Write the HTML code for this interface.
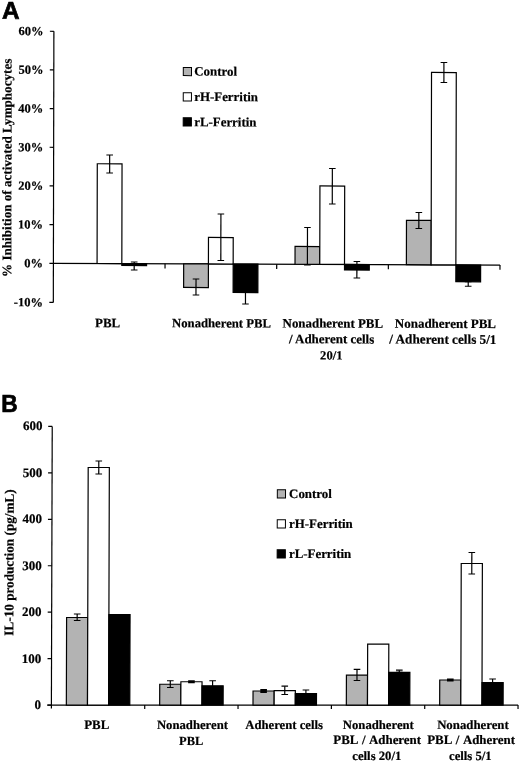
<!DOCTYPE html>
<html><head><meta charset="utf-8"><title>Figure</title>
<style>html,body{margin:0;padding:0;background:#fff;}svg{display:block}
.s{font-family:"Liberation Serif",serif;font-weight:bold;stroke:#000;stroke-width:0.2px;}
.n{font-family:"Liberation Sans",sans-serif;font-weight:bold;stroke:#000;stroke-width:0.7px;}</style></head>
<body>
<svg width="520" height="763" viewBox="0 0 520 763" style="filter:blur(0.3px)">
<rect x="0" y="0" width="520" height="763" fill="#fff"/>
<g transform="matrix(1 0.004 -0.0021 1 0.5529 -0.2136)">
<text x="1.49" y="19.01" font-size="24.3" text-anchor="start" class="n" fill="#000" >A</text>
<line x1="53.40" y1="31.28" x2="53.40" y2="302.47" stroke="#000" stroke-width="1.2"/>
<line x1="49.40" y1="31.28" x2="53.40" y2="31.28" stroke="#000" stroke-width="1.2"/>
<text x="43.00" y="35.28" font-size="12.5" text-anchor="end" class="s" fill="#000" >60%</text>
<line x1="49.40" y1="69.95" x2="53.40" y2="69.95" stroke="#000" stroke-width="1.2"/>
<text x="43.00" y="73.95" font-size="12.5" text-anchor="end" class="s" fill="#000" >50%</text>
<line x1="49.40" y1="108.62" x2="53.40" y2="108.62" stroke="#000" stroke-width="1.2"/>
<text x="43.00" y="112.62" font-size="12.5" text-anchor="end" class="s" fill="#000" >40%</text>
<line x1="49.40" y1="147.29" x2="53.40" y2="147.29" stroke="#000" stroke-width="1.2"/>
<text x="43.00" y="151.29" font-size="12.5" text-anchor="end" class="s" fill="#000" >30%</text>
<line x1="49.40" y1="185.96" x2="53.40" y2="185.96" stroke="#000" stroke-width="1.2"/>
<text x="43.00" y="189.96" font-size="12.5" text-anchor="end" class="s" fill="#000" >20%</text>
<line x1="49.40" y1="224.63" x2="53.40" y2="224.63" stroke="#000" stroke-width="1.2"/>
<text x="43.00" y="228.63" font-size="12.5" text-anchor="end" class="s" fill="#000" >10%</text>
<line x1="49.40" y1="263.30" x2="53.40" y2="263.30" stroke="#000" stroke-width="1.2"/>
<text x="43.00" y="267.30" font-size="12.5" text-anchor="end" class="s" fill="#000" >0%</text>
<line x1="49.40" y1="302.47" x2="53.40" y2="302.47" stroke="#000" stroke-width="1.2"/>
<text x="43.00" y="306.47" font-size="12.5" text-anchor="end" class="s" fill="#000" >-10%</text>
<line x1="53.40" y1="263.30" x2="500.00" y2="263.30" stroke="#000" stroke-width="1.2"/>
<line x1="165.05" y1="263.30" x2="165.05" y2="268.00" stroke="#000" stroke-width="1.2"/>
<line x1="276.70" y1="263.30" x2="276.70" y2="268.00" stroke="#000" stroke-width="1.2"/>
<line x1="388.35" y1="263.30" x2="388.35" y2="268.00" stroke="#000" stroke-width="1.2"/>
<line x1="500.00" y1="263.30" x2="500.00" y2="268.00" stroke="#000" stroke-width="1.2"/>
<rect x="97.08" y="163.58" width="24.75" height="99.72" fill="#fff" stroke="#000" stroke-width="1.2"/>
<line x1="109.45" y1="154.78" x2="109.45" y2="172.78" stroke="#000" stroke-width="1.2"/>
<line x1="106.15" y1="154.78" x2="112.75" y2="154.78" stroke="#000" stroke-width="1.2"/>
<line x1="106.15" y1="172.78" x2="112.75" y2="172.78" stroke="#000" stroke-width="1.2"/>
<rect x="121.83" y="263.30" width="24.75" height="1.88" fill="#000" stroke="#000" stroke-width="1.2"/>
<line x1="134.20" y1="261.68" x2="134.20" y2="269.68" stroke="#000" stroke-width="1.2"/>
<line x1="130.90" y1="261.68" x2="137.50" y2="261.68" stroke="#000" stroke-width="1.2"/>
<line x1="130.90" y1="269.68" x2="137.50" y2="269.68" stroke="#000" stroke-width="1.2"/>
<rect x="183.67" y="263.30" width="24.75" height="23.63" fill="#b3b3b3" stroke="#000" stroke-width="1.2"/>
<line x1="196.05" y1="278.43" x2="196.05" y2="294.43" stroke="#000" stroke-width="1.2"/>
<line x1="192.75" y1="278.43" x2="199.35" y2="278.43" stroke="#000" stroke-width="1.2"/>
<line x1="192.75" y1="294.43" x2="199.35" y2="294.43" stroke="#000" stroke-width="1.2"/>
<rect x="208.42" y="236.83" width="24.75" height="26.47" fill="#fff" stroke="#000" stroke-width="1.2"/>
<line x1="220.80" y1="213.33" x2="220.80" y2="259.83" stroke="#000" stroke-width="1.2"/>
<line x1="217.50" y1="213.33" x2="224.10" y2="213.33" stroke="#000" stroke-width="1.2"/>
<line x1="217.50" y1="259.83" x2="224.10" y2="259.83" stroke="#000" stroke-width="1.2"/>
<rect x="233.17" y="263.30" width="24.75" height="28.43" fill="#000" stroke="#000" stroke-width="1.2"/>
<line x1="245.55" y1="291.73" x2="245.55" y2="303.23" stroke="#000" stroke-width="1.2"/>
<line x1="242.25" y1="291.73" x2="248.85" y2="291.73" stroke="#000" stroke-width="1.2"/>
<line x1="242.25" y1="303.23" x2="248.85" y2="303.23" stroke="#000" stroke-width="1.2"/>
<rect x="295.02" y="245.48" width="24.75" height="17.82" fill="#b3b3b3" stroke="#000" stroke-width="1.2"/>
<line x1="307.40" y1="226.48" x2="307.40" y2="263.98" stroke="#000" stroke-width="1.2"/>
<line x1="304.10" y1="226.48" x2="310.70" y2="226.48" stroke="#000" stroke-width="1.2"/>
<line x1="304.10" y1="263.98" x2="310.70" y2="263.98" stroke="#000" stroke-width="1.2"/>
<rect x="319.77" y="184.88" width="24.75" height="78.42" fill="#fff" stroke="#000" stroke-width="1.2"/>
<line x1="332.15" y1="167.38" x2="332.15" y2="202.88" stroke="#000" stroke-width="1.2"/>
<line x1="328.85" y1="167.38" x2="335.45" y2="167.38" stroke="#000" stroke-width="1.2"/>
<line x1="328.85" y1="202.88" x2="335.45" y2="202.88" stroke="#000" stroke-width="1.2"/>
<rect x="344.52" y="263.30" width="24.75" height="5.49" fill="#000" stroke="#000" stroke-width="1.2"/>
<line x1="356.90" y1="260.29" x2="356.90" y2="276.79" stroke="#000" stroke-width="1.2"/>
<line x1="353.60" y1="260.29" x2="360.20" y2="260.29" stroke="#000" stroke-width="1.2"/>
<line x1="353.60" y1="276.79" x2="360.20" y2="276.79" stroke="#000" stroke-width="1.2"/>
<rect x="406.38" y="218.94" width="24.75" height="44.36" fill="#b3b3b3" stroke="#000" stroke-width="1.2"/>
<line x1="418.75" y1="211.04" x2="418.75" y2="227.04" stroke="#000" stroke-width="1.2"/>
<line x1="415.45" y1="211.04" x2="422.05" y2="211.04" stroke="#000" stroke-width="1.2"/>
<line x1="415.45" y1="227.04" x2="422.05" y2="227.04" stroke="#000" stroke-width="1.2"/>
<rect x="431.12" y="70.94" width="24.75" height="192.36" fill="#fff" stroke="#000" stroke-width="1.2"/>
<line x1="443.50" y1="60.94" x2="443.50" y2="80.94" stroke="#000" stroke-width="1.2"/>
<line x1="440.20" y1="60.94" x2="446.80" y2="60.94" stroke="#000" stroke-width="1.2"/>
<line x1="440.20" y1="80.94" x2="446.80" y2="80.94" stroke="#000" stroke-width="1.2"/>
<rect x="455.88" y="263.30" width="24.75" height="16.79" fill="#000" stroke="#000" stroke-width="1.2"/>
<line x1="468.25" y1="280.09" x2="468.25" y2="284.59" stroke="#000" stroke-width="1.2"/>
<line x1="464.95" y1="280.09" x2="471.55" y2="280.09" stroke="#000" stroke-width="1.2"/>
<line x1="464.95" y1="284.59" x2="471.55" y2="284.59" stroke="#000" stroke-width="1.2"/>
<text x="107.73" y="326.98" font-size="12.9" text-anchor="middle" class="s" fill="#000" >PBL</text>
<text x="221.63" y="326.73" font-size="12.7" text-anchor="middle" class="s" fill="#000" >Nonadherent PBL</text>
<text x="332.94" y="326.48" font-size="12.9" text-anchor="middle" class="s" fill="#000" >Nonadherent PBL</text>
<text x="331.77" y="342.19" font-size="12.95" text-anchor="middle" class="s" fill="#000" >/ Adherent cells</text>
<text x="331.50" y="358.39" font-size="12.6" text-anchor="middle" class="s" fill="#000" >20/1</text>
<text x="445.54" y="326.33" font-size="13.0" text-anchor="middle" class="s" fill="#000" >Nonadherent PBL</text>
<text x="443.07" y="342.14" font-size="13.2" text-anchor="middle" class="s" fill="#000" >/ Adherent cells 5/1</text>
<text transform="translate(11.2,168.0) rotate(-90)" font-size="13.1" text-anchor="middle" class="s" fill="#000">% Inhibition of activated Lymphocytes</text>
<rect x="182.90" y="66.90" width="8.20" height="8.20" fill="#b3b3b3" stroke="#000" stroke-width="1"/>
<text x="193.90" y="75.00" font-size="12.9" text-anchor="start" class="s" fill="#000" >Control</text>
<rect x="182.90" y="92.20" width="8.20" height="8.20" fill="#fff" stroke="#000" stroke-width="1"/>
<text x="193.90" y="100.40" font-size="12.9" text-anchor="start" class="s" fill="#000" >rH-Ferritin</text>
<rect x="182.90" y="117.20" width="8.20" height="8.20" fill="#000" stroke="#000" stroke-width="1"/>
<text x="193.90" y="125.70" font-size="12.9" text-anchor="start" class="s" fill="#000" >rL-Ferritin</text>
</g>
<text transform="translate(1.3,411.8) scale(0.94,1.025)" font-size="24.2" class="n" fill="#000">B</text>
<g transform="translate(0,705.1) skewX(-0.17) translate(0,-705.1)">
<line x1="51.40" y1="426.40" x2="51.40" y2="708.60" stroke="#000" stroke-width="1.2"/>
<line x1="47.40" y1="426.40" x2="51.40" y2="426.40" stroke="#000" stroke-width="1.2"/>
<text x="41.70" y="430.40" font-size="13" text-anchor="end" class="s" fill="#000" >600</text>
<line x1="47.40" y1="472.85" x2="51.40" y2="472.85" stroke="#000" stroke-width="1.2"/>
<text x="41.58" y="476.85" font-size="13" text-anchor="end" class="s" fill="#000" >500</text>
<line x1="47.40" y1="519.30" x2="51.40" y2="519.30" stroke="#000" stroke-width="1.2"/>
<text x="41.47" y="523.30" font-size="13" text-anchor="end" class="s" fill="#000" >400</text>
<line x1="47.40" y1="565.75" x2="51.40" y2="565.75" stroke="#000" stroke-width="1.2"/>
<text x="41.35" y="569.75" font-size="13" text-anchor="end" class="s" fill="#000" >300</text>
<line x1="47.40" y1="612.20" x2="51.40" y2="612.20" stroke="#000" stroke-width="1.2"/>
<text x="41.23" y="616.20" font-size="13" text-anchor="end" class="s" fill="#000" >200</text>
<line x1="47.40" y1="658.65" x2="51.40" y2="658.65" stroke="#000" stroke-width="1.2"/>
<text x="41.12" y="662.65" font-size="13" text-anchor="end" class="s" fill="#000" >100</text>
<line x1="47.40" y1="705.10" x2="51.40" y2="705.10" stroke="#000" stroke-width="1.2"/>
<text x="41.00" y="709.10" font-size="13" text-anchor="end" class="s" fill="#000" >0</text>
<line x1="47.40" y1="705.10" x2="518.05" y2="705.10" stroke="#000" stroke-width="1.2"/>
<line x1="144.73" y1="705.10" x2="144.73" y2="709.10" stroke="#000" stroke-width="1.2"/>
<line x1="238.06" y1="705.10" x2="238.06" y2="709.10" stroke="#000" stroke-width="1.2"/>
<line x1="331.39" y1="705.10" x2="331.39" y2="709.10" stroke="#000" stroke-width="1.2"/>
<line x1="424.72" y1="705.10" x2="424.72" y2="709.10" stroke="#000" stroke-width="1.2"/>
<line x1="518.05" y1="705.10" x2="518.05" y2="709.10" stroke="#000" stroke-width="1.2"/>
<rect x="66.34" y="617.50" width="21.15" height="87.60" fill="#b3b3b3" stroke="#000" stroke-width="1.2"/>
<line x1="76.92" y1="614.00" x2="76.92" y2="620.50" stroke="#000" stroke-width="1.2"/>
<line x1="73.62" y1="614.00" x2="80.22" y2="614.00" stroke="#000" stroke-width="1.2"/>
<line x1="73.62" y1="620.50" x2="80.22" y2="620.50" stroke="#000" stroke-width="1.2"/>
<rect x="87.49" y="467.50" width="21.15" height="237.60" fill="#fff" stroke="#000" stroke-width="1.2"/>
<line x1="98.07" y1="461.00" x2="98.07" y2="474.00" stroke="#000" stroke-width="1.2"/>
<line x1="94.77" y1="461.00" x2="101.37" y2="461.00" stroke="#000" stroke-width="1.2"/>
<line x1="94.77" y1="474.00" x2="101.37" y2="474.00" stroke="#000" stroke-width="1.2"/>
<rect x="108.64" y="614.50" width="21.15" height="90.60" fill="#000" stroke="#000" stroke-width="1.2"/>
<rect x="159.67" y="684.25" width="21.15" height="20.85" fill="#b3b3b3" stroke="#000" stroke-width="1.2"/>
<line x1="170.24" y1="680.75" x2="170.24" y2="687.50" stroke="#000" stroke-width="1.2"/>
<line x1="166.94" y1="680.75" x2="173.54" y2="680.75" stroke="#000" stroke-width="1.2"/>
<line x1="166.94" y1="687.50" x2="173.54" y2="687.50" stroke="#000" stroke-width="1.2"/>
<rect x="180.82" y="681.75" width="21.15" height="23.35" fill="#fff" stroke="#000" stroke-width="1.2"/>
<rect x="188.09" y="680.20" width="6.6" height="3.10" fill="#000"/>
<rect x="201.97" y="685.75" width="21.15" height="19.35" fill="#000" stroke="#000" stroke-width="1.2"/>
<line x1="212.54" y1="680.75" x2="212.54" y2="690.00" stroke="#000" stroke-width="1.2"/>
<line x1="209.24" y1="680.75" x2="215.84" y2="680.75" stroke="#000" stroke-width="1.2"/>
<line x1="209.24" y1="690.00" x2="215.84" y2="690.00" stroke="#000" stroke-width="1.2"/>
<rect x="253.00" y="691.00" width="21.15" height="14.10" fill="#b3b3b3" stroke="#000" stroke-width="1.2"/>
<rect x="260.27" y="689.10" width="6.6" height="3.80" fill="#000"/>
<rect x="274.15" y="690.60" width="21.15" height="14.50" fill="#fff" stroke="#000" stroke-width="1.2"/>
<line x1="284.72" y1="686.20" x2="284.72" y2="694.50" stroke="#000" stroke-width="1.2"/>
<line x1="281.42" y1="686.20" x2="288.02" y2="686.20" stroke="#000" stroke-width="1.2"/>
<line x1="281.42" y1="694.50" x2="288.02" y2="694.50" stroke="#000" stroke-width="1.2"/>
<rect x="295.30" y="693.50" width="21.15" height="11.60" fill="#000" stroke="#000" stroke-width="1.2"/>
<line x1="305.88" y1="690.00" x2="305.88" y2="693.50" stroke="#000" stroke-width="1.2"/>
<line x1="302.57" y1="690.00" x2="309.18" y2="690.00" stroke="#000" stroke-width="1.2"/>
<line x1="302.57" y1="693.50" x2="309.18" y2="693.50" stroke="#000" stroke-width="1.2"/>
<rect x="346.33" y="675.20" width="21.15" height="29.90" fill="#b3b3b3" stroke="#000" stroke-width="1.2"/>
<line x1="356.90" y1="669.30" x2="356.90" y2="680.50" stroke="#000" stroke-width="1.2"/>
<line x1="353.60" y1="669.30" x2="360.20" y2="669.30" stroke="#000" stroke-width="1.2"/>
<line x1="353.60" y1="680.50" x2="360.20" y2="680.50" stroke="#000" stroke-width="1.2"/>
<rect x="367.48" y="644.10" width="21.15" height="61.00" fill="#fff" stroke="#000" stroke-width="1.2"/>
<rect x="388.63" y="672.30" width="21.15" height="32.80" fill="#000" stroke="#000" stroke-width="1.2"/>
<line x1="399.20" y1="670.20" x2="399.20" y2="672.30" stroke="#000" stroke-width="1.2"/>
<line x1="395.90" y1="670.20" x2="402.50" y2="670.20" stroke="#000" stroke-width="1.2"/>
<line x1="395.90" y1="672.30" x2="402.50" y2="672.30" stroke="#000" stroke-width="1.2"/>
<rect x="439.66" y="680.00" width="21.15" height="25.10" fill="#b3b3b3" stroke="#000" stroke-width="1.2"/>
<rect x="446.93" y="678.60" width="6.6" height="2.80" fill="#000"/>
<rect x="460.81" y="563.50" width="21.15" height="141.60" fill="#fff" stroke="#000" stroke-width="1.2"/>
<line x1="471.38" y1="552.50" x2="471.38" y2="574.00" stroke="#000" stroke-width="1.2"/>
<line x1="468.08" y1="552.50" x2="474.68" y2="552.50" stroke="#000" stroke-width="1.2"/>
<line x1="468.08" y1="574.00" x2="474.68" y2="574.00" stroke="#000" stroke-width="1.2"/>
<rect x="481.96" y="682.50" width="21.15" height="22.60" fill="#000" stroke="#000" stroke-width="1.2"/>
<line x1="492.53" y1="679.00" x2="492.53" y2="682.50" stroke="#000" stroke-width="1.2"/>
<line x1="489.23" y1="679.00" x2="495.83" y2="679.00" stroke="#000" stroke-width="1.2"/>
<line x1="489.23" y1="682.50" x2="495.83" y2="682.50" stroke="#000" stroke-width="1.2"/>
<text x="96.80" y="728.60" font-size="12.9" text-anchor="middle" class="s" fill="#000" >PBL</text>
<text x="192.50" y="728.60" font-size="12.7" text-anchor="middle" class="s" fill="#000" >Nonadherent</text>
<text x="191.30" y="744.60" font-size="12.4" text-anchor="middle" class="s" fill="#000" >PBL</text>
<text x="284.20" y="728.60" font-size="12.7" text-anchor="middle" class="s" fill="#000" >Adherent cells</text>
<text x="378.40" y="728.60" font-size="12.7" text-anchor="middle" class="s" fill="#000" >Nonadherent</text>
<text x="377.30" y="744.40" font-size="12.9" text-anchor="middle" class="s" fill="#000" word-spacing="1">PBL / Adherent</text>
<text x="377.00" y="759.80" font-size="12.7" text-anchor="middle" class="s" fill="#000" >cells 20/1</text>
<text x="473.00" y="729.00" font-size="12.8" text-anchor="middle" class="s" fill="#000" >Nonadherent</text>
<text x="471.20" y="744.40" font-size="12.9" text-anchor="middle" class="s" fill="#000" word-spacing="1">PBL / Adherent</text>
<text x="470.50" y="759.80" font-size="12.7" text-anchor="middle" class="s" fill="#000" >cells 5/1</text>
<text transform="translate(13.1,562.5) rotate(-90)" font-size="13.2" text-anchor="middle" class="s" fill="#000">IL-10 production (pg/mL)</text>
<rect x="276.70" y="489.70" width="8.20" height="8.20" fill="#b3b3b3" stroke="#000" stroke-width="1"/>
<text x="288.50" y="497.70" font-size="12.9" text-anchor="start" class="s" fill="#000" >Control</text>
<rect x="276.70" y="519.80" width="8.20" height="8.20" fill="#fff" stroke="#000" stroke-width="1"/>
<text x="288.50" y="528.10" font-size="12.9" text-anchor="start" class="s" fill="#000" >rH-Ferritin</text>
<rect x="276.70" y="549.80" width="8.20" height="8.20" fill="#000" stroke="#000" stroke-width="1"/>
<text x="288.50" y="558.10" font-size="12.9" text-anchor="start" class="s" fill="#000" >rL-Ferritin</text>
</g>
</svg>
</body></html>
